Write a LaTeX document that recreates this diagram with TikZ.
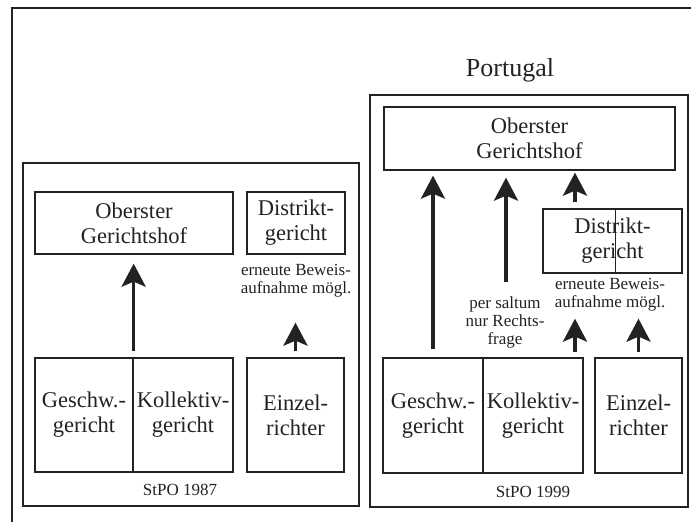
\documentclass[tikz,border=0pt]{standalone}
\usepackage{fontspec}
\setmainfont{Liberation Serif}
\usetikzlibrary{arrows.meta}
\definecolor{ink}{HTML}{222222}
\tikzset{
  court/.style={draw=ink, line width=1.3pt, rectangle, inner sep=0pt, align=center,
    text=ink, font=\fontsize{22.5}{25}\selectfont},
  small/.style={inner sep=0pt, align=center, text=ink, font=\fontsize{17}{18}\selectfont},
  panel/.style={draw=ink, line width=1.2pt},
  arr/.style={draw=ink, line width=3.5pt, -{Stealth[length=23pt,width=24pt,inset=5pt]}},
}
\begin{document}
\begin{tikzpicture}[x=1pt,y=-1pt]
\useasboundingbox (0,0) rectangle (691,522);
% outer frame
\draw[panel, line width=1.1pt] (12,522) -- (12,8) -- (691,8);
% panels
\draw[panel] (23,163) rectangle (359,506);
\draw[panel] (370,95) rectangle (688,507);

% ---- left: StPO 1987
\node[court, minimum width=198pt, minimum height=62pt] (lob) at (134,223) {Oberster\\Gerichtshof};
\node[court, minimum width=98pt, minimum height=62pt] (ldi) at (296,223) {Distrikt-\\gericht};
\node[small] (lbew) at (296,281) {erneute Beweis-\\aufnahme mögl.};
\node[court, minimum width=98pt, minimum height=114pt] (lge) at (84,415) {Geschw.-\\gericht};
\node[court, minimum width=100pt, minimum height=114pt] (lko) at (183,415) {Kollektiv-\\gericht};
\node[court, minimum width=97pt, minimum height=114pt] (lei) at (295.5,415) {Einzel-\\richter};
\node[small] (lst) at (180,490) {StPO 1987};

\draw[arr, shorten <=6pt, shorten >=9pt] (lge.north east) -- (lge.north east |- lob.south);
\draw[arr, shorten <=6pt, shorten >=68pt] (lei.north) -- (lei.north |- ldi.south);

% ---- right: Portugal, StPO 1999
\node[text=ink, inner sep=0pt, font=\fontsize{26}{28}\selectfont] (port) at (510,70) {Portugal};
\node[court, minimum width=291pt, minimum height=63pt] (rob) at (529.5,138.5) {Oberster\\Gerichtshof};
\node[court, minimum width=139pt, minimum height=64pt] (rdi) at (612.5,241) {Distrikt-\\gericht};
\draw[ink, line width=1pt] ([xshift=2.5pt]rdi.north) -- ([xshift=2.5pt]rdi.south);
\node[small] (rbew) at (610,295) {erneute Beweis-\\aufnahme mögl.};
\node[small] (rps) at (505,322) {per saltum\\nur Rechts-\\frage};
\node[court, minimum width=100pt, minimum height=115pt] (rge) at (433,415.5) {Geschw.-\\gericht};
\node[court, minimum width=100pt, minimum height=115pt] (rko) at (533,415.5) {Kollektiv-\\gericht};
\node[court, minimum width=87pt, minimum height=115pt] (rei) at (638.5,415.5) {Einzel-\\richter};
\node[small] (rst) at (533,492) {StPO 1999};

\coordinate (a2s) at (506,282);
\draw[arr, shorten <=8pt, shorten >=5pt] (rge.north) -- (rge.north |- rob.south);
\draw[arr, shorten >=7pt] (a2s) -- (a2s |- rob.south);
\draw[arr, shorten <=6pt, shorten >=2pt] ([xshift=-37.5pt]rdi.north) -- ([xshift=-37.5pt]rdi.north |- rob.south);
\draw[arr, shorten <=5pt, shorten >=45pt] ([xshift=42pt]rko.north) -- ([xshift=42pt]rko.north |- rdi.south);
\draw[arr, shorten <=5pt, shorten >=45pt] (rei.north) -- (rei.north |- rdi.south);
\end{tikzpicture}
\end{document}
